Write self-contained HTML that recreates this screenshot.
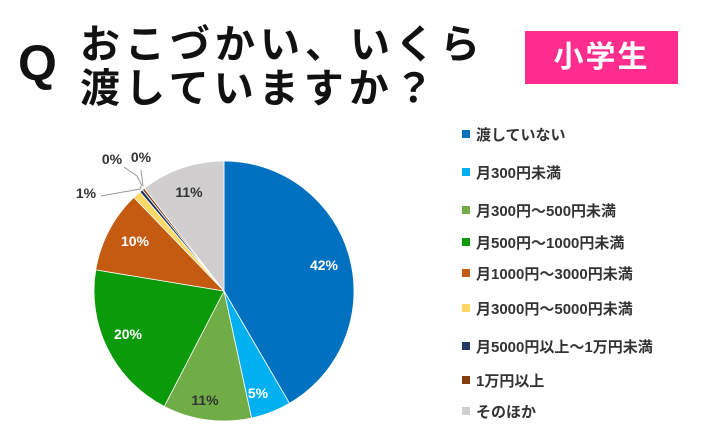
<!DOCTYPE html>
<html><head><meta charset="utf-8"><style>
html,body{margin:0;padding:0;background:#fff;}
body{width:708px;height:438px;position:relative;overflow:hidden;font-family:"Liberation Sans","Noto Sans CJK JP",sans-serif;}
.q{position:absolute;left:18px;top:38px;font-size:50px;font-weight:bold;color:#111;line-height:1;}
.t{position:absolute;left:80px;font-size:40px;font-weight:bold;color:#111;letter-spacing:5px;line-height:1;}
.tag{position:absolute;left:525px;top:31px;width:153px;height:53px;background:#FF2D8D;color:#fff;font-size:30px;font-weight:bold;text-align:center;line-height:53px;letter-spacing:2px;}
.lg{position:absolute;left:462px;font-size:15px;color:#333;font-weight:bold;}
.lg i{display:inline-block;width:8px;height:8px;margin-right:6px;vertical-align:2px;}
</style></head><body>
<div class="q">Q</div>
<div class="t" style="top:25px">おこづかい、いくら</div>
<div class="t" style="top:69px">渡していますか？</div>
<div class="tag">小学生</div>
<svg id="s" width="708" height="438" style="position:absolute;left:0;top:0"></svg>
<div class="lg" style="top:124px"><i style="background:#0070C0"></i>渡していない</div>
<div class="lg" style="top:162px"><i style="background:#00B0F0"></i>月300円未満</div>
<div class="lg" style="top:200px"><i style="background:#70AD47"></i>月300円～500円未満</div>
<div class="lg" style="top:232px"><i style="background:#0A9A0A"></i>月500円～1000円未満</div>
<div class="lg" style="top:263px"><i style="background:#C55A11"></i>月1000円～3000円未満</div>
<div class="lg" style="top:298px"><i style="background:#FFD966"></i>月3000円～5000円未満</div>
<div class="lg" style="top:336px"><i style="background:#203864"></i>月5000円以上～1万円未満</div>
<div class="lg" style="top:370px"><i style="background:#843C0C"></i>1万円以上</div>
<div class="lg" style="top:401px"><i style="background:#D0CECE"></i>そのほか</div>
<script>
var vals=[41.6,5,11,20,10.2,1,0.4,0.3,10.5],cols=["#0070C0","#00B0F0","#70AD47","#0A9A0A","#C55A11","#FFD966","#203864","#843C0C","#D0CECE"];
var cx=224,cy=291,r=130,a=0,s="",sum=vals.reduce(function(p,c){return p+c},0);
function pt(t,rr){return [cx+rr*Math.sin(t),cy-rr*Math.cos(t)];}
for(var i=0;i<vals.length;i++){var b=a+vals[i]/sum*2*Math.PI,p=pt(a,r),q=pt(b,r);
s+='<path d="M'+cx+' '+cy+'L'+p[0]+' '+p[1]+'A'+r+' '+r+' 0 '+((b-a)>Math.PI?1:0)+' 1 '+q[0]+' '+q[1]+'Z" fill="'+cols[i]+'" stroke="#fff" stroke-width="0.8"/>';a=b;}
s+='<polyline points="101,196 140,189 141,186" fill="none" stroke="#999" stroke-width="1"/>';
s+='<polyline points="124,167 137,176 142,186" fill="none" stroke="#999" stroke-width="1"/>';
s+='<polyline points="141,170 143,186" fill="none" stroke="#999" stroke-width="1"/>';
var L=[["42%",324,270,"#fff"],["5%",258,398,"#fff"],["11%",205,405,"#333"],["20%",128,339,"#fff"],["10%",135,246,"#fff"],["11%",189,197,"#333"],["1%",86,198,"#333"],["0%",112,164,"#333"],["0%",141,162,"#333"]];
L.forEach(function(l){s+='<text x="'+l[1]+'" y="'+l[2]+'" text-anchor="middle" font-family="Liberation Sans,sans-serif" font-weight="bold" font-size="14" fill="'+l[3]+'">'+l[0]+'</text>';});
document.getElementById("s").innerHTML=s;
</script>
</body></html>
